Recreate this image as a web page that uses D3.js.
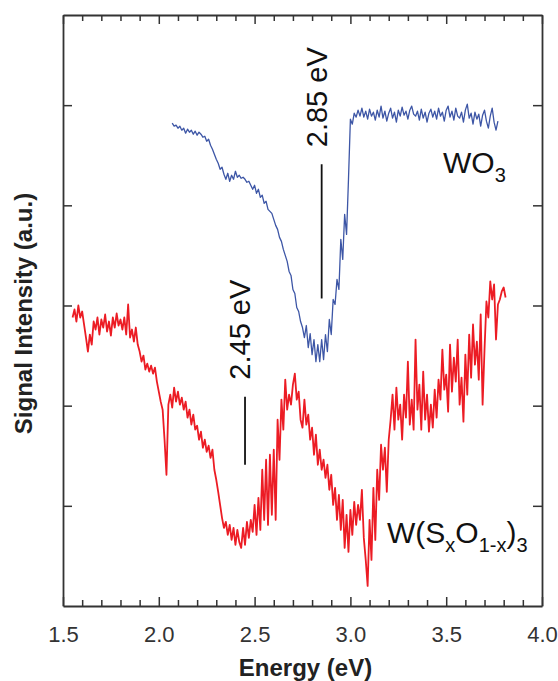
<!DOCTYPE html>
<html>
<head>
<meta charset="utf-8">
<script src="https://cdn.jsdelivr.net/npm/d3@7"></script>
<style>
  body { margin: 0; background: #fff; }
  text { font-family: "Liberation Sans", Arial, sans-serif; }
</style>
</head>
<body>
<svg id="chart" width="558" height="681"></svg>
<script>
// WO3 spectrum: [energy (eV), signal (a.u.)]
const wo3 = [
  [2.07,482],[2.08,479],[2.09,480],[2.10,477],[2.11,479],[2.12,475],[2.13,477],[2.14,472],[2.15,476],[2.16,473],
  [2.17,475],[2.18,471],[2.19,474],[2.20,470],[2.21,473],[2.22,471],[2.23,468],[2.24,469],[2.25,464],[2.26,466],
  [2.27,460],[2.28,456],[2.29,451],[2.30,446],[2.31,442],[2.32,436],[2.33,438],[2.34,431],[2.35,426],[2.36,432],
  [2.37,424],[2.38,430],[2.39,426],[2.40,434],[2.41,428],[2.42,430],[2.43,427],[2.44,428],[2.45,426],[2.46,423],
  [2.47,424],[2.48,420],[2.49,416],[2.50,420],[2.51,412],[2.52,416],[2.53,408],[2.54,410],[2.55,402],[2.56,404],
  [2.57,396],[2.58,394],[2.59,392],[2.60,386],[2.61,380],[2.62,376],[2.63,368],[2.64,364],[2.65,356],[2.66,350],
  [2.67,344],[2.68,334],[2.69,330],[2.70,316],[2.71,312],[2.72,298],[2.73,294],[2.74,284],[2.75,278],[2.76,268],
  [2.77,280],[2.78,258],[2.79,272],[2.80,251],[2.81,266],[2.82,244],[2.83,261],[2.84,244],[2.85,266],[2.86,246],
  [2.87,271],[2.88,254],[2.89,286],[2.90,271],[2.91,306],[2.92,301],[2.93,326],[2.94,316],[2.95,366],[2.96,346],
  [2.97,391],[2.98,371],[2.99,426],[3.00,486],[3.01,481],[3.02,492],[3.03,488],[3.04,495],[3.05,489],[3.06,497],
  [3.07,488],[3.08,494],[3.09,486],[3.10,496],[3.11,489],[3.12,493],[3.13,485],[3.14,495],[3.15,488],[3.16,499],
  [3.17,487],[3.18,494],[3.19,484],[3.20,492],[3.21,497],[3.22,487],[3.23,493],[3.24,483],[3.25,495],[3.26,489],
  [3.27,498],[3.28,490],[3.29,494],[3.30,486],[3.31,495],[3.32,499],[3.33,491],[3.34,489],[3.35,494],[3.36,485],
  [3.37,496],[3.38,487],[3.39,493],[3.40,483],[3.41,492],[3.42,496],[3.43,488],[3.44,494],[3.45,486],[3.46,497],
  [3.47,489],[3.48,493],[3.49,484],[3.50,495],[3.51,499],[3.52,488],[3.53,494],[3.54,485],[3.55,497],[3.56,489],
  [3.57,487],[3.58,493],[3.59,483],[3.60,495],[3.61,501],[3.62,487],[3.63,492],[3.64,481],[3.65,493],[3.66,486],
  [3.67,491],[3.68,479],[3.69,490],[3.70,495],[3.71,484],[3.72,477],[3.73,489],[3.74,497],[3.75,483],[3.76,475],
  [3.77,484]
];

// W(SxO1-x)3 spectrum: [energy (eV), signal (a.u.)]
const wsox = [
  [1.55,288],[1.56,296],[1.57,284],[1.58,300],[1.59,288],[1.60,294],[1.61,281],[1.62,268],[1.63,254],[1.64,271],
  [1.65,261],[1.66,284],[1.67,276],[1.68,288],[1.69,271],[1.70,286],[1.71,278],[1.72,291],[1.73,274],[1.74,284],
  [1.75,270],[1.76,288],[1.77,278],[1.78,292],[1.79,280],[1.80,286],[1.81,276],[1.82,288],[1.83,271],[1.84,301],
  [1.85,268],[1.86,276],[1.87,264],[1.88,278],[1.89,261],[1.90,254],[1.91,244],[1.92,250],[1.93,236],[1.94,242],
  [1.95,234],[1.96,240],[1.97,232],[1.98,238],[1.99,224],[2.00,214],[2.01,204],[2.02,196],[2.03,166],[2.04,131],
  [2.05,201],[2.06,211],[2.07,198],[2.08,218],[2.09,204],[2.10,214],[2.11,201],[2.12,208],[2.13,196],[2.14,204],
  [2.15,188],[2.16,196],[2.17,181],[2.18,191],[2.19,176],[2.20,180],[2.21,166],[2.22,174],[2.23,158],[2.24,166],
  [2.25,154],[2.26,160],[2.27,148],[2.28,156],[2.29,136],[2.30,126],[2.31,114],[2.32,101],[2.33,88],[2.34,78],
  [2.35,84],[2.36,71],[2.37,81],[2.38,66],[2.39,78],[2.40,61],[2.41,76],[2.42,64],[2.43,58],[2.44,78],
  [2.45,61],[2.46,84],[2.47,68],[2.48,86],[2.49,74],[2.50,101],[2.51,71],[2.52,108],[2.53,76],[2.54,136],
  [2.55,86],[2.56,146],[2.57,81],[2.58,151],[2.59,91],[2.60,156],[2.61,86],[2.62,186],[2.63,146],[2.64,206],
  [2.65,176],[2.66,226],[2.67,196],[2.68,211],[2.69,201],[2.70,221],[2.71,232],[2.72,206],[2.73,214],[2.74,186],
  [2.75,178],[2.76,206],[2.77,181],[2.78,191],[2.79,166],[2.80,178],[2.81,151],[2.82,171],[2.83,141],[2.84,156],
  [2.85,136],[2.86,146],[2.87,128],[2.88,141],[2.89,116],[2.90,131],[2.91,101],[2.92,118],[2.93,86],[2.94,111],
  [2.95,76],[2.96,106],[2.97,58],[2.98,91],[2.99,54],[3.00,96],[3.01,71],[3.02,104],[3.03,81],[3.04,101],
  [3.05,86],[3.06,116],[3.07,68],[3.08,46],[3.09,20],[3.10,86],[3.11,46],[3.12,118],[3.13,66],[3.14,136],
  [3.15,106],[3.16,161],[3.17,136],[3.18,158],[3.19,114],[3.20,166],[3.21,186],[3.22,211],[3.23,176],[3.24,218],
  [3.25,186],[3.26,201],[3.27,166],[3.28,211],[3.29,188],[3.30,244],[3.31,181],[3.32,206],[3.33,176],[3.34,266],
  [3.35,196],[3.36,221],[3.37,176],[3.38,234],[3.39,186],[3.40,211],[3.41,174],[3.42,201],[3.43,178],[3.44,216],
  [3.45,188],[3.46,226],[3.47,206],[3.48,256],[3.49,216],[3.50,231],[3.51,194],[3.52,261],[3.53,214],[3.54,248],
  [3.55,224],[3.56,266],[3.57,201],[3.58,228],[3.59,184],[3.60,251],[3.61,211],[3.62,271],[3.63,228],[3.64,281],
  [3.65,241],[3.66,264],[3.67,226],[3.68,291],[3.69,201],[3.70,256],[3.71,304],[3.72,288],[3.73,324],[3.74,306],
  [3.75,321],[3.76,266],[3.77,301],[3.78,306],[3.79,314],[3.80,318],[3.81,308]
];

const xMajorTicks = [1.5, 2.0, 2.5, 3.0, 3.5, 4.0];
const xTickLabels = ["1.5", "2.0", "2.5", "3.0", "3.5", "4.0"];
const xMinorTicks = [1.6,1.7,1.8,1.9,2.1,2.2,2.3,2.4,2.6,2.7,2.8,2.9,3.1,3.2,3.3,3.4,3.6,3.7,3.8,3.9];
const yTicks = [100, 200, 300, 400, 500];

// band-edge markers: energy, vertical extent of the bar (signal units)
const edgeEnergy = [2.85, 2.45];
const edgeLabels = ["2.85 eV", "2.45 eV"];
const edgeBarLow = [307, 141];
const edgeBarHigh = [441, 209];

const margin = { left: 63, right: 16, top: 15, bottom: 75 };
const W = 558, H = 681;

const svg = d3.select("#chart");
const x = d3.scaleLinear().domain([1.5, 4.0]).range([margin.left, W - margin.right]);
const y = d3.scaleLinear().domain([0, 590]).range([H - margin.bottom, margin.top]);

const axisColor = "#333";

// frame axes
function styleAxis(g) {
  g.select(".domain").attr("stroke", axisColor).attr("stroke-width", 1.8);
  g.selectAll(".tick line").attr("stroke", axisColor).attr("stroke-width", 1.5);
}

const axBottom = svg.append("g").attr("transform", `translate(0,${y(0)})`);
axBottom.call(d3.axisBottom(x).tickValues(xMajorTicks).tickSize(-9).tickSizeOuter(0)
  .tickFormat((d, i) => xTickLabels[i]).tickPadding(20));
axBottom.call(styleAxis);
axBottom.selectAll(".tick text").attr("font-size", 22).attr("fill", "#333")
  .attr("font-family", "'Liberation Sans', Arial, sans-serif");
const axBottomMinor = svg.append("g").attr("transform", `translate(0,${y(0)})`);
axBottomMinor.call(d3.axisBottom(x).tickValues(xMinorTicks).tickSize(-6).tickFormat(""));
axBottomMinor.call(styleAxis);
axBottomMinor.select(".domain").remove();

const axTop = svg.append("g").attr("transform", `translate(0,${y(590)})`);
axTop.call(d3.axisTop(x).tickValues(xMajorTicks).tickSize(-9).tickSizeOuter(0).tickFormat(""));
axTop.call(styleAxis);
const axTopMinor = svg.append("g").attr("transform", `translate(0,${y(590)})`);
axTopMinor.call(d3.axisTop(x).tickValues(xMinorTicks).tickSize(-6).tickFormat(""));
axTopMinor.call(styleAxis);
axTopMinor.select(".domain").remove();

const axLeft = svg.append("g").attr("transform", `translate(${x(1.5)},0)`);
axLeft.call(d3.axisLeft(y).tickValues(yTicks).tickSize(-9).tickSizeOuter(0).tickFormat(""));
axLeft.call(styleAxis);

const axRight = svg.append("g").attr("transform", `translate(${x(4.0)},0)`);
axRight.call(d3.axisRight(y).tickValues(yTicks).tickSize(-9).tickSizeOuter(0).tickFormat(""));
axRight.call(styleAxis);

// spectra
const line = d3.line().x(d => x(d[0])).y(d => y(d[1]));

svg.append("path").datum(wo3)
  .attr("fill", "none").attr("stroke", "#3d56a6").attr("stroke-width", 1.3)
  .attr("stroke-linejoin", "round").attr("d", line);

svg.append("path").datum(wsox)
  .attr("fill", "none").attr("stroke", "#ec1c24").attr("stroke-width", 1.8)
  .attr("stroke-linejoin", "round").attr("d", line);

// band-edge bars and labels
edgeEnergy.forEach((e, i) => {
  svg.append("line")
    .attr("x1", x(e)).attr("x2", x(e))
    .attr("y1", y(edgeBarLow[i])).attr("y2", y(edgeBarHigh[i]))
    .attr("stroke", "#111").attr("stroke-width", 1.8);
  const tx = x(e) + 5, ty = y(edgeBarHigh[i]) - 17;
  svg.append("text")
    .attr("transform", `translate(${tx},${ty}) rotate(-90)`)
    .attr("font-size", 29).attr("fill", "#111")
    .text(edgeLabels[i]);
});

// series labels
const wo3Label = svg.append("text").attr("x", 443).attr("y", 173)
  .attr("font-size", 30).attr("fill", "#111");
wo3Label.append("tspan").text("WO");
wo3Label.append("tspan").attr("font-size", 20).attr("dy", 9).text("3");

const wsLabel = svg.append("text").attr("x", 387).attr("y", 543)
  .attr("font-size", 30).attr("fill", "#111");
wsLabel.append("tspan").text("W(S");
wsLabel.append("tspan").attr("font-size", 20).attr("dy", 9).text("x");
wsLabel.append("tspan").attr("dy", -9).text("O");
wsLabel.append("tspan").attr("font-size", 20).attr("dy", 9).text("1-x");
wsLabel.append("tspan").attr("dy", -9).text(")");
wsLabel.append("tspan").attr("font-size", 20).attr("dy", 9).text("3");

// axis titles
svg.append("text")
  .attr("x", (x(1.5) + x(4.0)) / 2 + 3).attr("y", 676)
  .attr("text-anchor", "middle").attr("font-size", 24).attr("font-weight", "bold").attr("fill", "#222")
  .text("Energy (eV)");

svg.append("text")
  .attr("transform", `translate(32,${(y(0) + y(590)) / 2 + 3}) rotate(-90)`)
  .attr("text-anchor", "middle").attr("font-size", 24).attr("font-weight", "bold").attr("fill", "#222")
  .text("Signal Intensity (a.u.)");
</script>
</body>
</html>
